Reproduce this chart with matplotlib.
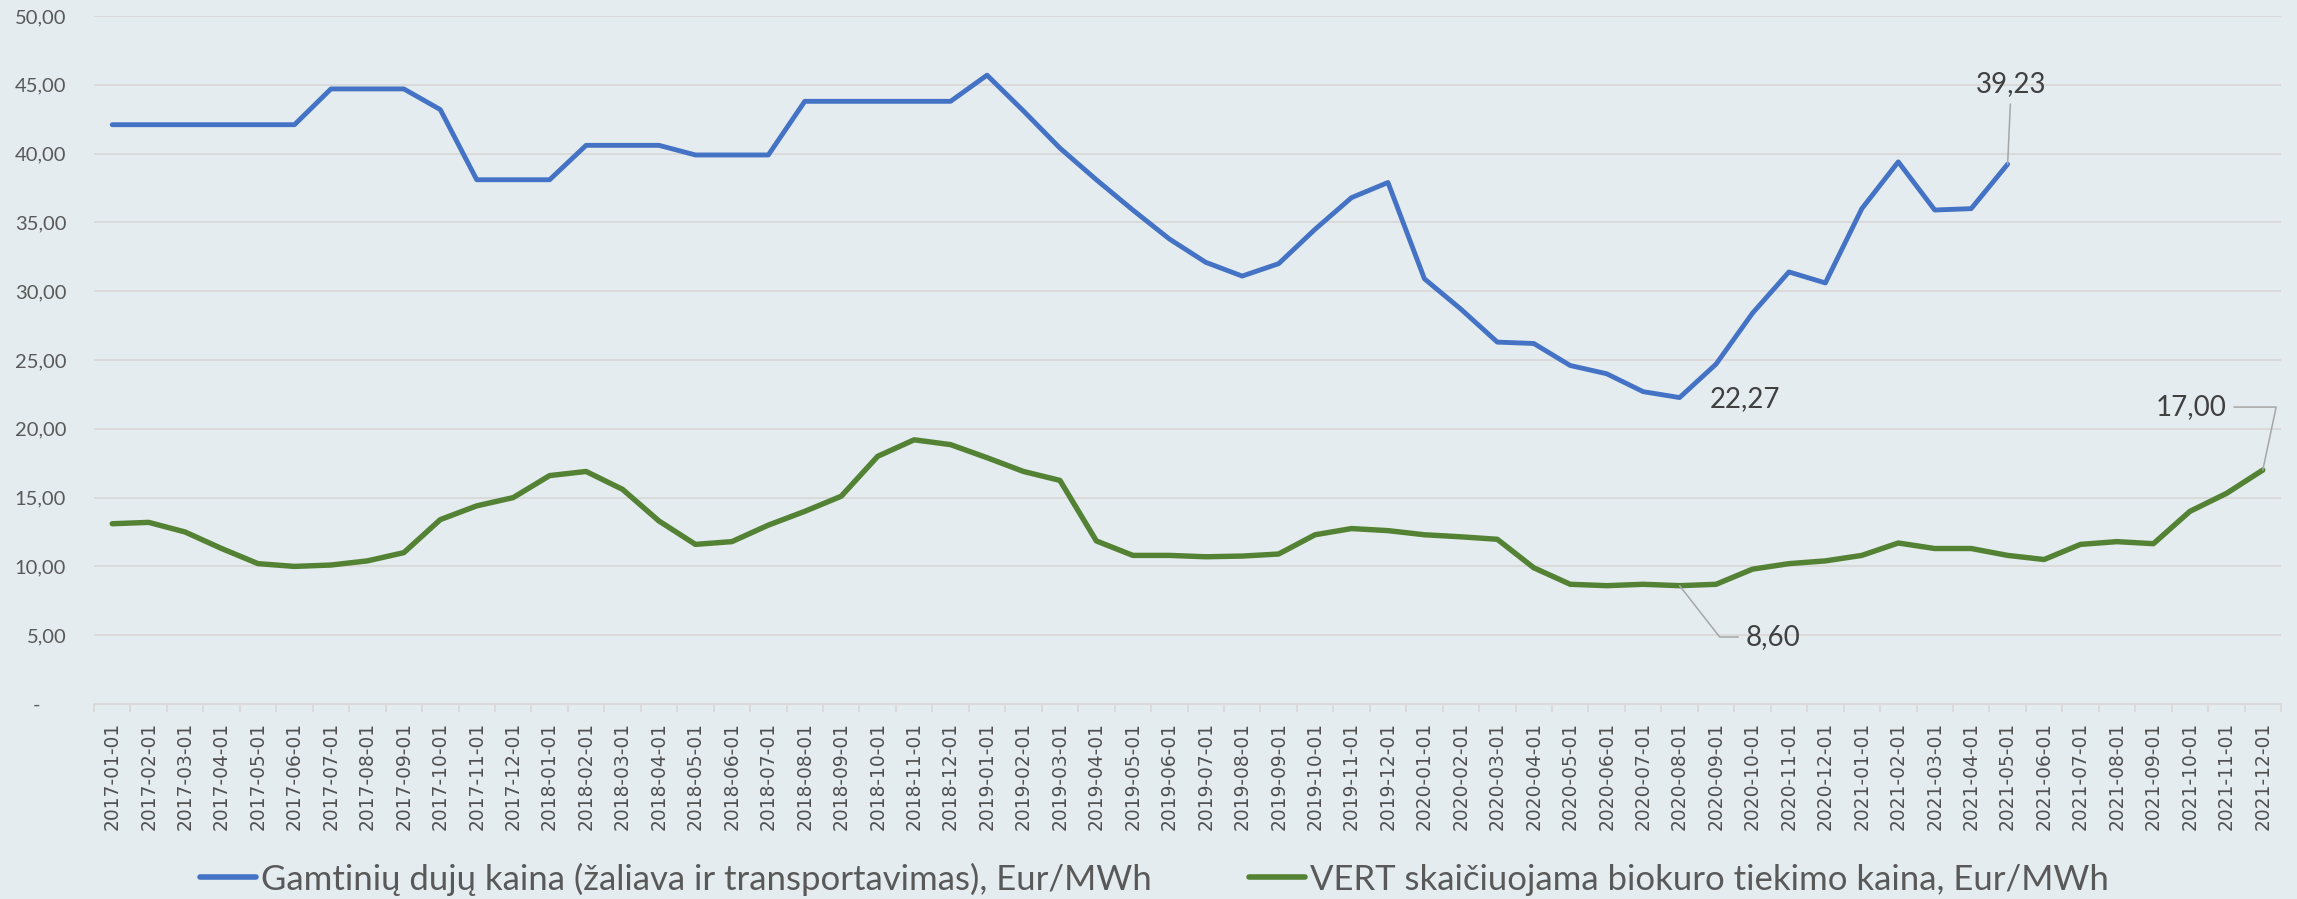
import matplotlib
matplotlib.use("Agg")
import matplotlib.pyplot as plt
from matplotlib.ticker import FixedLocator, FuncFormatter

# monthly categories 2017-01 .. 2021-12
months = [f"{y}-{m:02d}-01" for y in range(2017, 2022) for m in range(1, 13)]

gas = [42.1, 42.1, 42.1, 42.1, 42.1, 42.1, 44.7, 44.7, 44.7, 43.2,
       38.1, 38.1, 38.1, 40.6, 40.6, 40.6, 39.9, 39.9, 39.9, 43.8,
       43.8, 43.8, 43.8, 43.8, 45.7, 43.1, 40.4, 38.1, 35.9, 33.8,
       32.1, 31.1, 32.0, 34.5, 36.8, 37.9, 30.9, 28.7, 26.3, 26.2,
       24.6, 24.0, 22.7, 22.27, 24.7, 28.4, 31.4, 30.6, 36.0, 39.4,
       35.9, 36.0, 39.23]
bio = [13.1, 13.2, 12.5, 11.3, 10.2, 10.0, 10.1, 10.4, 11.0, 13.4,
       14.4, 15.0, 16.6, 16.9, 15.6, 13.3, 11.6, 11.8, 13.0, 14.0,
       15.1, 18.0, 19.2, 18.85, 17.9, 16.9, 16.25, 11.85, 10.8, 10.8,
       10.7, 10.75, 10.9, 12.3, 12.75, 12.6, 12.3, 12.15, 11.97, 9.9,
       8.7, 8.6, 8.7, 8.60, 8.7, 9.8, 10.2, 10.4, 10.8, 11.7,
       11.3, 11.3, 10.8, 10.5, 11.6, 11.8, 11.65, 14.0, 15.3, 17.0]

gas_label = "Gamtinių dujų kaina (žaliava ir transportavimas), Eur/MWh"
bio_label = "VERT skaičiuojama biokuro tiekimo kaina, Eur/MWh"

BG = "#E4ECEF"
GRID = "#D9D9D9"
TXT = "#595959"
FONT = ["Lato", "DejaVu Sans"]

fig = plt.figure(figsize=(22.97, 8.99), dpi=100)
fig.patch.set_facecolor(BG)
ax = fig.add_axes([94 / 2297, 1 - 704 / 899, (2281 - 94) / 2297, (704 - 16) / 899])
ax.set_facecolor(BG)

ax.plot(range(len(gas)), gas, color="#4472C4", lw=3.5, label=gas_label,
        solid_joinstyle="round", solid_capstyle="round", zorder=3)
ax.plot(range(len(bio)), bio, color="#548235", lw=3.9, label=bio_label,
        solid_joinstyle="round", solid_capstyle="round", zorder=3)

ax.set_xlim(-0.5, len(months) - 0.5)
ax.set_ylim(0, 50)
ax.set_yticks(range(0, 51, 5))
ax.yaxis.set_major_formatter(FuncFormatter(
    lambda v, _: "-     " if v == 0 else f"{v:.2f}".replace(".", ",")))
ax.grid(axis="y", color=GRID, lw=1.3)
ax.set_axisbelow(True)
for s in ["top", "right", "left"]:
    ax.spines[s].set_visible(False)
ax.spines["bottom"].set_color(GRID)
ax.spines["bottom"].set_linewidth(1.3)

# ticks between categories, labels at category centres
ax.xaxis.set_major_locator(FixedLocator([i - 0.5 for i in range(len(months) + 1)]))
ax.xaxis.set_minor_locator(FixedLocator(range(len(months))))
ax.set_xticklabels([], minor=False)
ax.set_xticklabels(months, minor=True, rotation=90, fontsize=13.4, color="#505050",
                   family="DejaVu Sans")
ax.tick_params(axis="x", which="major", length=6, color=GRID, width=1.3)
ax.tick_params(axis="x", which="minor", length=0, pad=13)
ax.tick_params(axis="y", length=0, pad=20)
for t in ax.get_yticklabels():
    t.set_family(FONT)
    t.set_fontsize(14.5)
    t.set_color(TXT)

ann = dict(fontsize=20, color="#404040", family=FONT)
lead = dict(arrowstyle="-", color="#A6A6A6", lw=1.1, shrinkA=3, shrinkB=0)
ax.annotate("39,23", xy=(52, gas[52]), xytext=(52.1, 45.05), ha="center", va="center",
            arrowprops=lead, **ann)
ax.annotate("22,27", xy=(43, gas[43]), xytext=(43.83, 22.17), ha="left", va="center", **ann)
ax.annotate("17,00", xy=(59, bio[59]), xytext=(58.02, 21.58), ha="right", va="center",
            arrowprops=dict(lead, connectionstyle="angle,angleA=0,angleB=78,rad=0"), **ann)
ax.annotate("8,60", xy=(43, bio[43]), xytext=(44.8, 4.87), ha="left", va="center",
            arrowprops=dict(lead, connectionstyle="angle,angleA=0,angleB=128,rad=0"), **ann)

leg = fig.legend(loc="center", bbox_to_anchor=(0.5026, 1 - 879 / 899), ncol=2,
                 frameon=False, handlelength=1.6, handletextpad=0.15, columnspacing=2.8,
                 prop={"family": FONT, "size": 25})
for t in leg.get_texts():
    t.set_color(TXT)
for h in leg.get_lines():
    h.set_linewidth(4)

fig.savefig("out.png", facecolor=fig.get_facecolor())
